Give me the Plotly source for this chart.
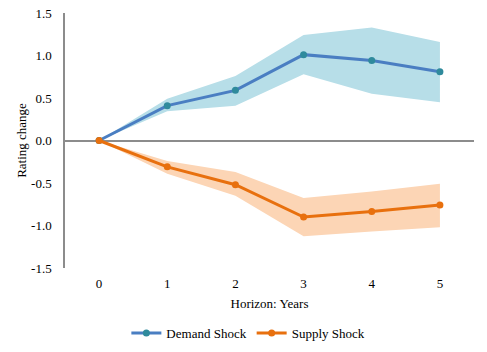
import plotly.graph_objects as go

horizon = [0, 1, 2, 3, 4, 5]
demand = [0.0, 0.41, 0.59, 1.01, 0.94, 0.81]
demand_upper = [0.0, 0.49, 0.76, 1.24, 1.33, 1.16]
demand_lower = [0.0, 0.345, 0.41, 0.78, 0.55, 0.45]
supply = [0.0, -0.31, -0.52, -0.90, -0.835, -0.76]
supply_upper = [0.0, -0.24, -0.37, -0.675, -0.60, -0.51]
supply_lower = [0.0, -0.39, -0.65, -1.125, -1.07, -1.02]
y_ticks = [1.5, 1.0, 0.5, 0.0, -0.5, -1.0, -1.5]

FONT = "Times New Roman, serif"
fig = go.Figure()

# bands
fig.add_trace(go.Scatter(x=horizon, y=demand_upper, mode="lines", line=dict(width=0),
                         showlegend=False, hoverinfo="skip"))
fig.add_trace(go.Scatter(x=horizon, y=demand_lower, mode="lines", line=dict(width=0),
                         fill="tonexty", fillcolor="#B7DEE8", showlegend=False, hoverinfo="skip"))
fig.add_trace(go.Scatter(x=horizon, y=supply_upper, mode="lines", line=dict(width=0),
                         showlegend=False, hoverinfo="skip"))
fig.add_trace(go.Scatter(x=horizon, y=supply_lower, mode="lines", line=dict(width=0),
                         fill="tonexty", fillcolor="#FCD5B5", showlegend=False, hoverinfo="skip"))

fig.add_trace(go.Scatter(x=horizon, y=demand, mode="lines+markers", name="Demand Shock",
                         line=dict(color="#4A7EC2", width=3),
                         marker=dict(color="#2F8A9C", size=7)))
fig.add_trace(go.Scatter(x=horizon, y=supply, mode="lines+markers", name="Supply Shock",
                         line=dict(color="#E8700E", width=3),
                         marker=dict(color="#E8700E", size=7)))

fig.update_layout(
    width=487, height=352,
    margin=dict(l=65, r=13, t=13, b=84, autoexpand=False),
    plot_bgcolor="white", paper_bgcolor="white",
    font=dict(family=FONT, size=13, color="#000000"),
    showlegend=True,
    legend=dict(orientation="h", xref="container", yref="container",
                x=0.51, xanchor="center", y=0.054, yanchor="middle",
                traceorder="normal", font=dict(family=FONT, size=13), itemwidth=30,
                tracegroupgap=0),
    xaxis=dict(range=[-0.5, 5.5], tickmode="array", tickvals=horizon,
               ticktext=[str(h) for h in horizon], showgrid=False, showline=False,
               zeroline=False, ticks="", ticklabelstandoff=6, automargin=False,
               tickfont=dict(family=FONT, size=13),
               title=dict(text="Horizon: Years", font=dict(family=FONT, size=13), standoff=8)),
    yaxis=dict(range=[-1.5, 1.5], tickmode="array", tickvals=y_ticks,
               ticktext=[f"{v:.1f}" for v in y_ticks], showgrid=False,
               showline=True, linecolor="#8C8C8C", linewidth=1.5,
               zeroline=True, zerolinecolor="#8C8C8C", zerolinewidth=1.5,
               ticks="", ticklabelstandoff=9, automargin=False,
               tickfont=dict(family=FONT, size=13),
               title=dict(text="Rating change", font=dict(family=FONT, size=13), standoff=2)),
)

fig.write_html("out.html")
